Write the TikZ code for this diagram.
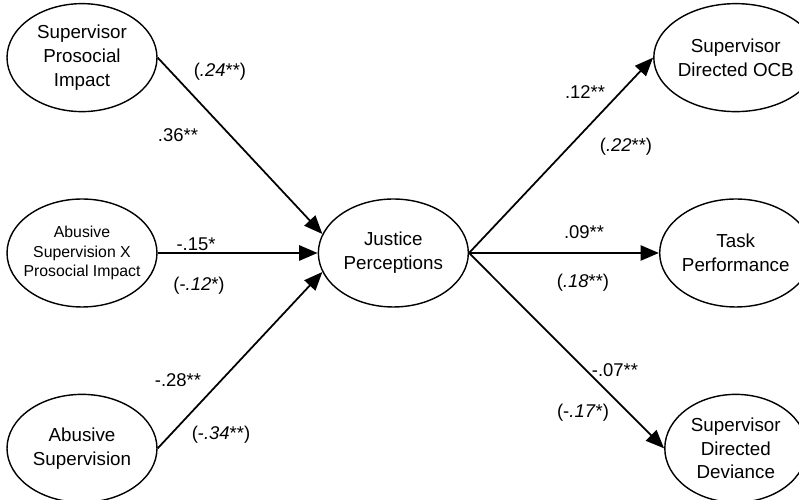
\documentclass[tikz,border=0pt]{standalone}
\usepackage{fontspec}
\setmainfont{Liberation Sans}
\usetikzlibrary{arrows.meta,positioning,shapes.geometric}
\tikzset{
  latent/.style={ellipse,draw,line width=0.8pt,align=center,inner sep=0pt,
    minimum width=3cm,minimum height=2.16cm,font=\fontsize{10.7}{13.6}\selectfont},
  outcome/.style={latent,minimum width=2.84cm},
  small/.style={font=\fontsize{9}{11.3}\selectfont,inner sep=-6pt},
  coef/.style={font=\fontsize{10.5}{12}\selectfont,inner sep=1pt},
  arrow/.style={-{Triangle[length=10.5pt,width=8.5pt]},line width=1pt},
  harrow/.style={arrow,line width=1.6pt},
}
\begin{document}
\begin{tikzpicture}[x=0.02cm,y=0.02cm,node distance=1.72cm and 3.2cm]
\useasboundingbox (0,0) rectangle (799,500);
\node[latent,small] (asx) at (82,247) {Abusive\\Supervision X\\Prosocial Impact};
\node[latent,above=of asx] (spi) {Supervisor\\Prosocial\\Impact};
\node[latent,below=of asx] (as) {Abusive\\Supervision};
\node[latent,right=of asx] (jp) {Justice\\Perceptions};
\node[outcome,right=3.8cm of jp] (task) {Task\\Performance};
\node[outcome,above=of task] (ocb) {Supervisor\\Directed OCB};
\node[outcome,below=of task] (sdd) {Supervisor\\Directed\\Deviance};

\draw[arrow] (spi.east) -- (jp.165);
\draw[harrow] (asx.east) -- (jp.west);
\draw[arrow] (as.east) -- (jp.195);
\draw[arrow] (jp.east) -- (ocb.west);
\draw[harrow] (jp.east) -- (task.west);
\draw[arrow] (jp.east) -- (sdd.west);

% path coefficients, controlled estimates in brackets
\node[coef] (c1) at (220,428) {(\textit{.24}**)};
\node[coef] (c2) at (178,365) {.36**};
\node[coef] (c3) at (196,256) {-.15*};
\node[coef] (c4) at (199,214) {(-\textit{.12}*)};
\node[coef] (c5) at (178,120) {-.28**};
\node[coef] (c6) at (221,65) {(-\textit{.34}**)};
\node[coef] (c7) at (585,408) {.12**};
\node[coef] (c8) at (626,353) {(\textit{.22}**)};
\node[coef] (c9) at (584,268) {.09**};
\node[coef] (c10) at (583,217) {(\textit{.18}**)};
\node[coef] (c11) at (615,130) {-.07**};
\node[coef] (c12) at (583,87) {(-\textit{.17}*)};
\end{tikzpicture}
\end{document}
